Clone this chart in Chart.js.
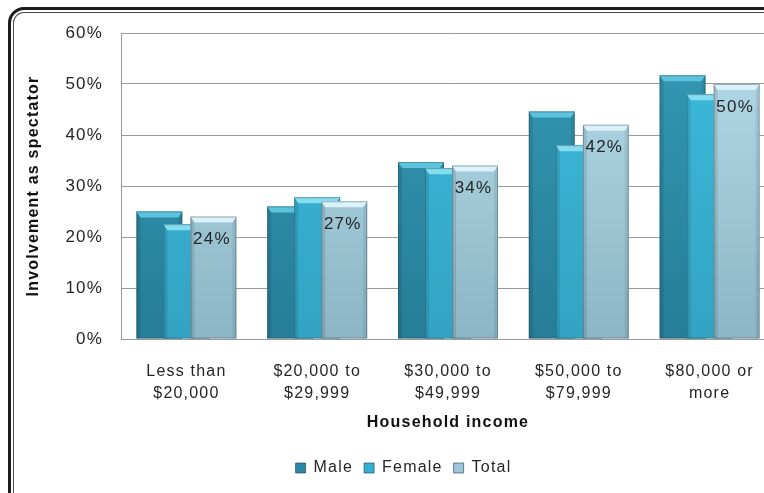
<!DOCTYPE html>
<html lang="en">
<head>
  <meta charset="UTF-8" />
  <title>Involvement as spectator by household income</title>
  <style>
    body {
      margin: 0;
      background: #fff;
      overflow: hidden;
    }
    .wrap {
      position: relative;
      width: 764px;
      height: 493px;
      overflow: hidden;
      background: #fff;
    }
    canvas {
      position: absolute;
      left: 0;
      top: 0;
    }
    /* rounded double frame, runs off the right and bottom edges */
    .frame {
      position: absolute;
      left: 8px;
      top: 7px;
      width: 820px;
      height: 540px;
      border: 3px solid #1c1c1c;
      border-radius: 16px;
      box-shadow: inset 0 0 0 2px #fff, inset 0 0 0 3px #4a4a4a;
      pointer-events: none;
    }
  </style>
</head>
<body>
  <div class="wrap">
    <canvas id="chart" width="780" height="493"></canvas>
    <div class="frame"></div>
  </div>

  <script src="https://cdn.jsdelivr.net/npm/chart.js"></script>
  <script>
    const incomeGroups = [
      ["Less than", "$20,000"],
      ["$20,000 to", "$29,999"],
      ["$30,000 to", "$49,999"],
      ["$50,000 to", "$79,999"],
      ["$80,000 or", "more"]
    ];
    const maleShare = [25, 26, 34.7, 44.6, 51.7];
    const femaleShare = [22.5, 27.8, 33.5, 38, 48];
    const totalShare = [24, 27, 34, 42, 50];
    const yTicks = [0, 10, 20, 30, 40, 50, 60];

    const FONT = "'Liberation Sans', Arial, sans-serif";
    const INK = "#262626";
    const LEGEND_SHIFT = 16;

    // face gradient (top -> bottom), bevel and legend colours per series
    const looks = [
      { top: "#3499b5", bottom: "#267d97", bevel: "#5cc3dc", legend: "#2a88a4" },
      { top: "#3ebbdc", bottom: "#32a3c3", bevel: "#86dcf0", legend: "#35b0d2" },
      { top: "#b5dcea", bottom: "#8cb5c5", bevel: "#dcf2fa", legend: "#9fc6d6" }
    ];

    Chart.defaults.font.family = FONT;
    Chart.defaults.color = INK;

    function faceFill(i) {
      return (context) => {
        const { chart } = context;
        const area = chart.chartArea;
        if (!area) return looks[i].top;
        const g = chart.ctx.createLinearGradient(0, area.top, 0, area.bottom);
        g.addColorStop(0, looks[i].top);
        g.addColorStop(1, looks[i].bottom);
        return g;
      };
    }

    function drawBevel(ctx, bar, look) {
      const { x, y, width, base } = bar.getProps(["x", "y", "width", "base"], true);
      const l = x - width / 2, r = x + width / 2, d = 6, s = 4;
      ctx.save();
      // darker side strips
      ctx.fillStyle = "rgba(0,0,0,0.10)";
      ctx.beginPath();
      ctx.moveTo(l, y); ctx.lineTo(l + s, y + d); ctx.lineTo(l + s, base); ctx.lineTo(l, base);
      ctx.closePath(); ctx.fill();
      ctx.fillStyle = "rgba(0,0,0,0.07)";
      ctx.beginPath();
      ctx.moveTo(r, y); ctx.lineTo(r - s, y + d); ctx.lineTo(r - s, base); ctx.lineTo(r, base);
      ctx.closePath(); ctx.fill();
      // light top face
      ctx.fillStyle = look.bevel;
      ctx.beginPath();
      ctx.moveTo(l, y); ctx.lineTo(r, y); ctx.lineTo(r - s, y + d); ctx.lineTo(l + s, y + d);
      ctx.closePath(); ctx.fill();
      // soft outline
      ctx.strokeStyle = "rgba(40,60,70,0.35)";
      ctx.lineWidth = 1;
      ctx.strokeRect(l + 0.5, y + 0.5, width - 1, base - y - 1);
      ctx.restore();
    }

    const barLook = {
      id: "barLook",
      beforeUpdate(chart) { chart.ctx.letterSpacing = "1.2px"; },
      beforeDraw(chart) { chart.ctx.letterSpacing = "1.2px"; },
      afterLayout(chart) {
        chart.legend.left += LEGEND_SHIFT;
        chart.legend.right += LEGEND_SHIFT;
      },
      // later series overlap earlier ones, so draw them in dataset order
      beforeDatasetsDraw(chart) {
        const ctx = chart.ctx;
        chart.data.datasets.forEach((ds, i) => {
          chart.getDatasetMeta(i).data.forEach(bar => {
            bar.draw(ctx);
            drawBevel(ctx, bar, looks[i]);
          });
        });
        // value labels on the Total bars
        const totals = chart.getDatasetMeta(2).data;
        ctx.save();
        ctx.font = "17px " + FONT;
        ctx.fillStyle = INK;
        ctx.textAlign = "center";
        ctx.textBaseline = "middle";
        totals.forEach((bar, k) => {
          ctx.fillText(totalShare[k] + "%", bar.x - 1.5, bar.y + 23);
        });
        ctx.restore();
        return false;
      }
    };

    new Chart(document.getElementById("chart"), {
      type: "bar",
      data: {
        labels: incomeGroups,
        datasets: [
          { label: "Male", data: maleShare, backgroundColor: faceFill(0) },
          { label: "Female", data: femaleShare, backgroundColor: faceFill(1) },
          { label: "Total", data: totalShare, backgroundColor: faceFill(2) }
        ]
      },
      options: {
        responsive: false,
        animation: false,
        categoryPercentage: 0.62,
        barPercentage: 1.7,
        layout: { padding: { top: 33, right: 5, bottom: 7, left: 0 } },
        plugins: {
          tooltip: { enabled: false },
          legend: {
            position: "bottom",
            labels: {
              boxWidth: 10,
              boxHeight: 10,
              padding: 11,
              font: { size: 16 },
              color: INK,
              generateLabels(chart) {
                return Chart.defaults.plugins.legend.labels.generateLabels(chart).map((item, i) => {
                  item.fillStyle = looks[i].legend;
                  item.strokeStyle = "rgba(20,60,80,0.6)";
                  item.lineWidth = 1;
                  return item;
                });
              }
            }
          }
        },
        scales: {
          x: {
            grid: { display: false },
            border: { color: "#999", width: 1 },
            ticks: {
              font: { size: 16, lineHeight: 1.375 },
              color: INK,
              padding: 14,
              maxRotation: 0,
              autoSkip: false
            },
            title: {
              display: true,
              text: "Household income",
              font: { size: 16, weight: "bold" },
              color: "#111",
              padding: { top: 0, bottom: 17 }
            },
            afterFit(scale) { scale.height = 110; }
          },
          y: {
            min: yTicks[0],
            max: yTicks[yTicks.length - 1],
            afterBuildTicks(scale) { scale.ticks = yTicks.map(v => ({ value: v })); },
            grid: { color: "#999", lineWidth: 1, drawTicks: false },
            border: { color: "#999", width: 1 },
            ticks: {
              font: { size: 17 },
              color: INK,
              padding: 18,
              callback: v => v + "%"
            },
            title: {
              display: true,
              text: "Involvement as spectator",
              font: { size: 16, weight: "bold" },
              color: "#111",
              padding: { top: 24, bottom: 0 }
            },
            afterFit(scale) { scale.width = 121; }
          }
        }
      },
      plugins: [barLook]
    });
  </script>
</body>
</html>
